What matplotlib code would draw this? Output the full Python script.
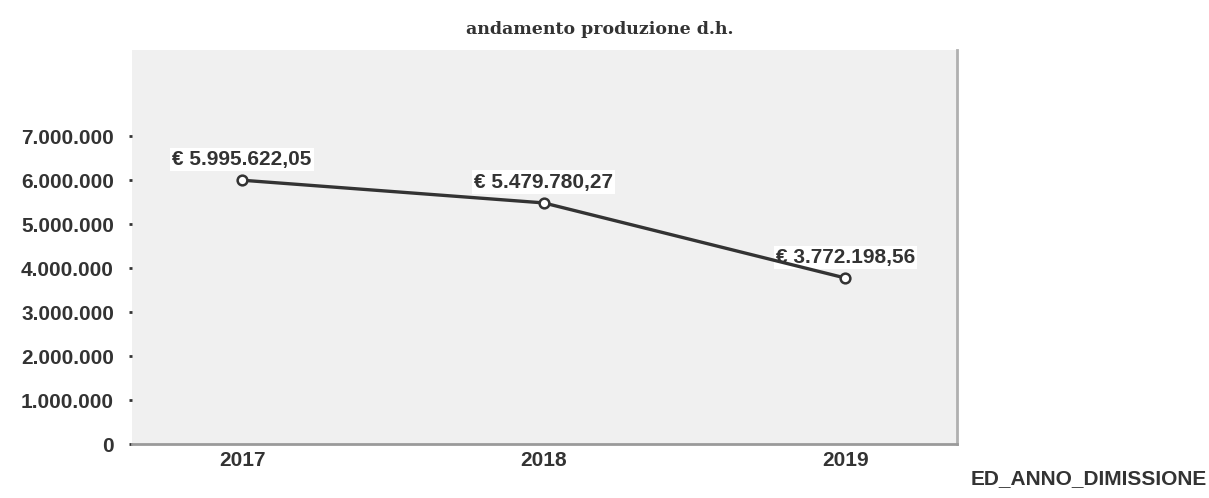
import matplotlib
matplotlib.use("Agg")
import matplotlib.pyplot as plt
from matplotlib.ticker import FixedLocator, FuncFormatter

years = ["2017", "2018", "2019"]
values = [5995622.05, 5479780.27, 3772198.56]
yticks = [0, 1000000, 2000000, 3000000, 4000000, 5000000, 6000000, 7000000]
title = "andamento produzione d.h."
xlabel = "ED_ANNO_DIMISSIONE"

def it_int(v):
    return f"{int(round(v)):,}".replace(",", ".")

def it_eur(v):
    s = f"{v:,.2f}"
    s = s.replace(",", "X").replace(".", ",").replace("X", ".")
    return "€ " + s

SANS = ["Liberation Sans Narrow", "Liberation Sans", "DejaVu Sans"]
TXT = "#333333"
FS = 15

fig = plt.figure(figsize=(12.09, 4.98), dpi=100)
ax = fig.add_axes([0.1092, 0.1084, 0.6824, 0.7912])
ax.set_facecolor("#f0f0f0")

xs = list(range(len(years)))
ax.plot(xs, values, color="#333333", lw=2.4, marker="o", ms=7,
        mfc="white", mec="#333333", mew=1.8, zorder=5, clip_on=False)

for x, v in zip(xs, values):
    ax.annotate(it_eur(v), (x, v), xytext=(0, 15), textcoords="offset points",
                ha="center", va="center", fontsize=FS, family=SANS, color=TXT,
                fontweight="bold",
                bbox=dict(boxstyle="square,pad=0.1", fc="white", ec="none"),
                zorder=3)

ax.set_xlim(-0.365, 2.37)
ax.set_ylim(0, 8955000)
ax.set_xticks(xs)
ax.set_xticklabels(years)
ax.yaxis.set_major_locator(FixedLocator(yticks))
ax.yaxis.set_major_formatter(FuncFormatter(lambda v, p: it_int(v)))

for lab in ax.get_xticklabels() + ax.get_yticklabels():
    lab.set_family(SANS)
    lab.set_fontsize(FS)
    lab.set_fontweight("bold")
    lab.set_color(TXT)

ax.tick_params(axis="y", length=2, width=2, color=TXT, pad=11)
ax.tick_params(axis="x", length=0, pad=5)

for side in ["top", "left"]:
    ax.spines[side].set_visible(False)
ax.spines["bottom"].set_color("#9a9a9a")
ax.spines["bottom"].set_linewidth(2)
ax.spines["right"].set_color("#b0b0b0")
ax.spines["right"].set_linewidth(2)

fig.text(0.4963, 0.94, title, ha="center", va="center", fontsize=12.5,
         family=["DejaVu Serif"], fontweight="bold", color=TXT)
fig.text(0.998, 0.04, xlabel, ha="right", va="center", fontsize=FS,
         family=SANS, fontweight="bold", color=TXT)

fig.savefig("out.png", dpi=100, facecolor="white")
